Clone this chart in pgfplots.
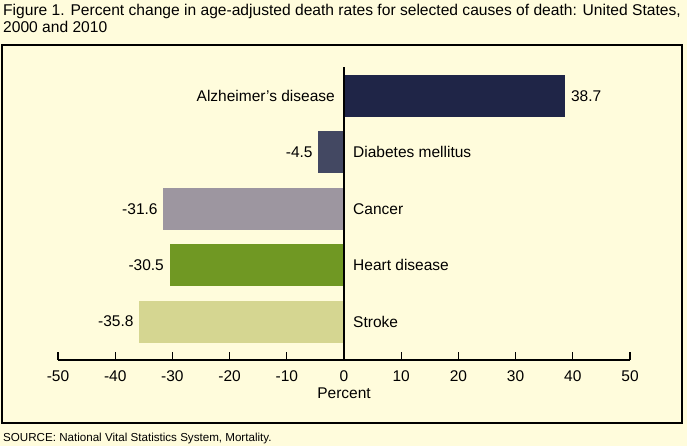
\documentclass[border=0pt]{standalone}
\usepackage{fontspec}
\setmainfont{Liberation Sans}
\usepackage{pgfplots}
\pgfplotsset{compat=1.18}
\definecolor{bg}{RGB}{255,252,220}
\definecolor{calz}{RGB}{31,37,71}
\definecolor{cdia}{RGB}{67,72,98}
\definecolor{ccan}{RGB}{157,150,160}
\definecolor{chea}{RGB}{112,152,35}
\definecolor{cstr}{RGB}{213,214,145}
\begin{document}
\begin{tikzpicture}[x=1bp,y=1bp]
\fill[bg] (0,0) rectangle (687,-446);
\useasboundingbox (0,0) rectangle (687,-446);
\draw[line width=1.3bp, black] (2,-45) rectangle (682,-423);
\node[anchor=north west, align=left, font=\fontsize{15.6bp}{17.5bp}\selectfont, inner sep=0] at (3,-4) {Figure 1. Percent change in age-adjusted death rates for selected causes of death: United States,\\2000 and 2010};
\node[anchor=base west, font=\fontsize{11.6bp}{13bp}\selectfont, inner sep=0] at (3,-441) {SOURCE: National Vital Statistics System, Mortality.};
\begin{axis}[at={(58bp,-360bp)}, anchor=south west, scale only axis,
  width=572bp, height=293bp,
  xmin=-50, xmax=50, ymin=-0.68, ymax=4.51,
  xbar, bar shift=0pt, bar width=42bp,
  axis x line=bottom, axis y line=none,
  axis line style={-, line width=1.3bp, black},
  xtick={-50,-40,...,50}, ytick=\empty,
  tick align=inside, major tick length=8bp,
  tick style={line width=1.3bp, black},
  xticklabel shift=7bp,
  xlabel={Percent},
  xlabel style={at={(axis description cs:0.5,0)}, anchor=center, yshift=-33bp},
  tick label style={font=\fontsize{15.5bp}{17bp}\selectfont},
  label style={font=\fontsize{15.5bp}{17bp}\selectfont},
  /pgf/number format/assume math mode=true,
  nodes near coords,
  nodes near coords style={font=\fontsize{15.5bp}{17bp}\selectfont, inner sep=0pt, xshift=5.5bp, /pgf/number format/fixed, /pgf/number format/precision=1, /pgf/number format/fixed zerofill},
  clip=false]
\addplot[fill=calz, draw=none] coordinates {(38.7,4)};
\addplot[fill=cdia, draw=none, nodes near coords style={anchor=east, xshift=-11bp}] coordinates {(-4.5,3)};
\addplot[fill=ccan, draw=none, nodes near coords style={anchor=east, xshift=-11bp}] coordinates {(-31.6,2)};
\addplot[fill=chea, draw=none, nodes near coords style={anchor=east, xshift=-11bp}] coordinates {(-30.5,1)};
\addplot[fill=cstr, draw=none, nodes near coords style={anchor=east, xshift=-11bp}] coordinates {(-35.8,0)};
\draw[line width=1.5bp] (axis cs:0,-0.68) -- (axis cs:0,4.51);
\begin{scope}[font=\fontsize{15.5bp}{17bp}\selectfont, inner sep=0pt]
\node[anchor=east, xshift=-9bp] at (axis cs:0,4) {Alzheimer’s disease};
\node[anchor=west, xshift=9bp] at (axis cs:0,3) {Diabetes mellitus};
\node[anchor=west, xshift=9bp] at (axis cs:0,2) {Cancer};
\node[anchor=west, xshift=9bp] at (axis cs:0,1) {Heart disease};
\node[anchor=west, xshift=9bp] at (axis cs:0,0) {Stroke};
\end{scope}
\end{axis}
\end{tikzpicture}
\end{document}
